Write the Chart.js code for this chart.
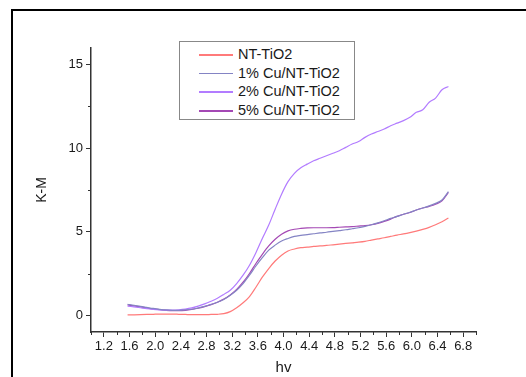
<!DOCTYPE html>
<html>
<head>
<meta charset="utf-8">
<script src="https://cdn.jsdelivr.net/npm/chart.js@4/dist/chart.umd.min.js"></script>
<style>
  html, body { margin: 0; padding: 0; background: #fff; }
  #wrap { position: relative; width: 526px; height: 377px; overflow: hidden; }
  #frame { position: absolute; left: 11px; top: 9px; width: 600px; height: 400px;
           border-left: 2px solid #000; border-top: 2px solid #000; }
  canvas { position: absolute; left: 0; top: 0; }
  #legend { position: absolute; left: 179px; top: 41px; width: 174px; height: 77px;
            border: 1px solid #888; background: #fff;
            font-family: "Liberation Sans", Arial, sans-serif; font-size: 14.5px; color: #1a1a1a; }
  .row { position: absolute; left: 0; height: 18px; line-height: 18px; white-space: nowrap; }
  .swatch { position: absolute; left: 19px; top: 9px; width: 34px; height: 1.5px; }
  .label { position: absolute; left: 58px; top: 0; }
</style>
</head>
<body>
<div id="wrap">
  <div id="frame"></div>
  <canvas id="kmChart" width="526" height="377"></canvas>
  <div id="legend"></div>
</div>
<script>
// photon energy (eV), shared by all curves
const hv = [1.57, 1.67, 1.77, 1.87, 1.97, 2.07, 2.17, 2.27, 2.37, 2.47,
  2.57, 2.67, 2.77, 2.87, 2.97, 3.07, 3.17, 3.27, 3.37, 3.47,
  3.57, 3.67, 3.77, 3.87, 3.97, 4.07, 4.17, 4.27, 4.37, 4.47,
  4.57, 4.67, 4.77, 4.87, 4.97, 5.07, 5.17, 5.27, 5.37, 5.47,
  5.57, 5.67, 5.77, 5.87, 5.97, 6.07, 6.17, 6.27, 6.37, 6.47, 6.57];

const ntTiO2 = [0.02, 0.03, 0.04, 0.05, 0.06, 0.07, 0.07, 0.07, 0.06, 0.05,
  0.04, 0.04, 0.04, 0.05, 0.06, 0.1, 0.22, 0.45, 0.75, 1.12,
  1.68, 2.28, 2.8, 3.25, 3.6, 3.85, 3.97, 4.05, 4.08, 4.12,
  4.15, 4.18, 4.22, 4.26, 4.3, 4.34, 4.38, 4.43, 4.5, 4.57,
  4.64, 4.72, 4.8, 4.87, 4.95, 5.04, 5.14, 5.26, 5.42, 5.6, 5.82];

const cu1 = [0.66, 0.6, 0.53, 0.47, 0.41, 0.36, 0.32, 0.3, 0.3, 0.32,
  0.36, 0.44, 0.53, 0.65, 0.78, 0.95, 1.2, 1.5, 1.9, 2.4,
  2.95, 3.45, 3.9, 4.2, 4.45, 4.6, 4.72, 4.78, 4.83, 4.88,
  4.93, 4.97, 5.02, 5.07, 5.12, 5.18, 5.24, 5.32, 5.42, 5.53,
  5.66, 5.8, 5.92, 6.05, 6.17, 6.3, 6.42, 6.55, 6.7, 6.9, 7.4];

const cu2 = [0.55, 0.5, 0.45, 0.4, 0.36, 0.33, 0.31, 0.31, 0.33, 0.37,
  0.44, 0.55, 0.68, 0.84, 1.02, 1.25, 1.5, 1.9, 2.4, 3.0,
  3.75, 4.6, 5.4, 6.35, 7.25, 8.0, 8.5, 8.83, 9.05, 9.25,
  9.4, 9.55, 9.7, 9.85, 10.05, 10.25, 10.4, 10.65, 10.85, 11.0,
  11.15, 11.35, 11.5, 11.65, 11.85, 12.15, 12.3, 12.75, 13.0, 13.5, 13.7];

const cu5 = [0.62, 0.56, 0.5, 0.44, 0.38, 0.34, 0.3, 0.28, 0.28, 0.3,
  0.35, 0.42, 0.52, 0.64, 0.78, 0.97, 1.22, 1.55, 1.98, 2.5,
  3.1, 3.65, 4.15, 4.55, 4.85, 5.05, 5.15, 5.2, 5.23, 5.24,
  5.24, 5.24, 5.25, 5.27, 5.29, 5.31, 5.34, 5.37, 5.42, 5.5,
  5.62, 5.76, 5.92, 6.05, 6.15, 6.3, 6.42, 6.52, 6.65, 6.85, 7.35];

const seriesNames = ['NT-TiO2', '1% Cu/NT-TiO2', '2% Cu/NT-TiO2', '5% Cu/NT-TiO2'];
const seriesColors = ['#ff7a7a', '#8484c4', '#b27cff', '#a448b4'];
const seriesValues = [ntTiO2, cu1, cu2, cu5];

const xTicks = [1.2, 1.6, 2.0, 2.4, 2.8, 3.2, 3.6, 4.0, 4.4, 4.8, 5.2, 5.6, 6.0, 6.4, 6.8];
const xMinor = [1.0, 1.4, 1.8, 2.2, 2.6, 3.0, 3.4, 3.8, 4.2, 4.6, 5.0, 5.4, 5.8, 6.2, 6.6, 7.0];
const yTicks = [0, 5, 10, 15];
const yMinor = [2.5, 7.5, 12.5];

const axisFont = { family: '"Liberation Sans", Arial, sans-serif', size: 13 };
const axisColor = '#333';

// legend box (html, real text)
const legend = document.getElementById('legend');
seriesNames.forEach((name, i) => {
  const row = document.createElement('div');
  row.className = 'row';
  row.style.top = (3 + i * 18.7) + 'px';
  row.innerHTML = '<div class="swatch" style="background:' + seriesColors[i] + '"></div>' +
    '<div class="label">' + name + '</div>';
  legend.appendChild(row);
});

// Origin-style short outward minor ticks
const minorTicks = {
  id: 'minorTicks',
  afterDraw(chart) {
    const { ctx, chartArea, scales } = chart;
    ctx.save();
    ctx.strokeStyle = axisColor;
    ctx.lineWidth = 1;
    ctx.beginPath();
    xMinor.forEach(v => {
      const px = Math.round(scales.x.getPixelForValue(v)) + 0.5;
      ctx.moveTo(px, chartArea.bottom);
      ctx.lineTo(px, chartArea.bottom + 3);
    });
    yMinor.forEach(v => {
      const py = Math.round(scales.y.getPixelForValue(v)) + 0.5;
      ctx.moveTo(chartArea.left, py);
      ctx.lineTo(chartArea.left - 3, py);
    });
    ctx.stroke();
    ctx.restore();
  }
};

new Chart(document.getElementById('kmChart').getContext('2d'), {
  type: 'line',
  data: {
    datasets: seriesNames.map((name, i) => ({
      label: name,
      data: hv.map((x, j) => ({ x: x, y: seriesValues[i][j] })),
      borderColor: seriesColors[i],
      borderWidth: 1.2,
      pointRadius: 0,
      fill: false,
      cubicInterpolationMode: 'monotone'
    }))
  },
  options: {
    responsive: false,
    animation: false,
    devicePixelRatio: 1,
    layout: { padding: { top: 48, right: 50, bottom: 0, left: 0 } },
    plugins: {
      legend: { display: false },
      tooltip: { enabled: false }
    },
    scales: {
      x: {
        type: 'linear',
        min: 1,
        max: 7,
        afterBuildTicks: s => { s.ticks = xTicks.map(v => ({ value: v })); },
        afterFit: s => { s.height = 45; },
        ticks: {
          autoSkip: false,
          maxRotation: 0,
          padding: 2,
          font: axisFont,
          color: '#1a1a1a',
          callback: v => Number(v).toFixed(1)
        },
        grid: { drawOnChartArea: false, drawTicks: true, tickLength: 5, color: axisColor, lineWidth: 1 },
        border: { display: true, color: axisColor, width: 1.5 },
        title: {
          display: true,
          text: 'hv',
          color: '#1a1a1a',
          font: { family: axisFont.family, size: 15 },
          padding: { top: 0, bottom: 0 }
        }
      },
      y: {
        min: -1,
        max: 16,
        afterBuildTicks: s => { s.ticks = yTicks.map(v => ({ value: v })); },
        afterFit: s => { s.width = 91; },
        ticks: { padding: 3, font: axisFont, color: '#1a1a1a' },
        grid: { drawOnChartArea: false, drawTicks: true, tickLength: 5, color: axisColor, lineWidth: 1 },
        border: { display: true, color: axisColor, width: 1.5 },
        title: {
          display: true,
          text: 'K-M',
          color: '#1a1a1a',
          font: { family: axisFont.family, size: 14 },
          padding: { top: 34, bottom: 0 }
        }
      }
    }
  },
  plugins: [minorTicks]
});
</script>
</body>
</html>
